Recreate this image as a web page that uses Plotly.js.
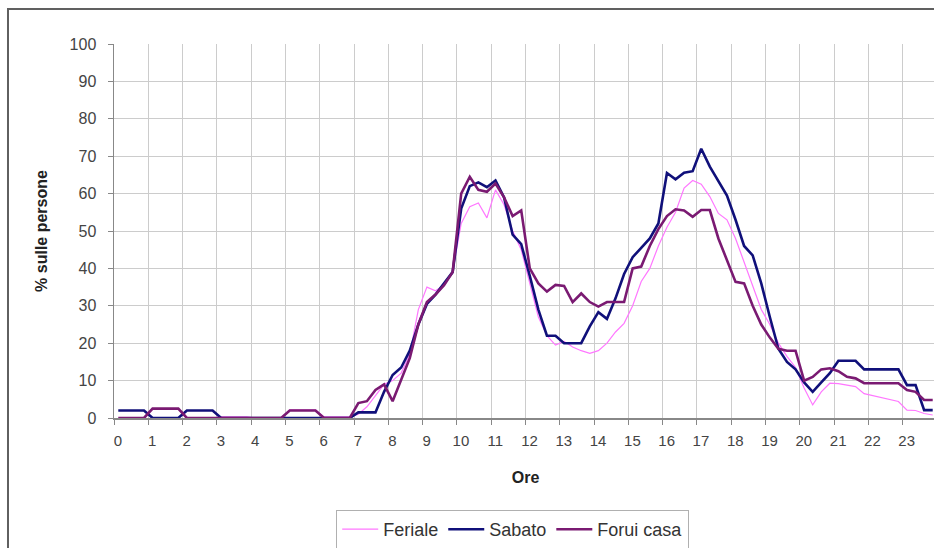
<!DOCTYPE html>
<html>
<head>
<meta charset="utf-8">
<script src="https://cdn.plot.ly/plotly-3.0.1.min.js"></script>
<style>
html,body{margin:0;padding:0;overflow:hidden;background:#fff;width:934px;height:548px;}
#chart{width:940px;height:548px;}
</style>
</head>
<body>
<div id="chart"></div>
<script>
// Hour tick labels (categories are quarter hours, 4 per hour)
const hourLabels = ["0","1","2","3","4","5","6","7","8","9","10","11","12","13","14","15","16","17","18","19","20","21","22","23"];

// Series values, one per quarter hour (96 points)
const feriale = [
  0,0,0,0, 2.5,2.5,2.5,2.5, 0,0,0,0, 0.3,0.3,0.3,0.3, 0,0,0,0, 2.2,2.2,2.2,2.2, 0.3,0.3,0.3,0.3,
  1,3,6,9, 10,12,17,29,
  35,34,35.5,39, 52,56.5,57.5,53.5, 61,57,50,45,
  36,27,22,19.5, 20.5,19,18,17.3, 18,20,23,25.3,
  30,36.5,40,46, 51,55,61.5,63.5, 62.5,59.2,54.7,53,
  48,41.5,35,29, 25,20,16.5,13.5, 8,3.5,7,9.3,
  9.2,8.8,8.4,6.5, 6,5.5,5,4.4, 2.1,2,1.2,0.8
];
const sabato = [
  2,2,2,2, 0,0,0,0, 2,2,2,2, 0,0,0,0, 0,0,0,0, 0,0,0,0, 0,0,0,0,
  1.5,1.5,1.5,7, 11.5,13.5,18,25,
  30.5,33,36,39, 56,62,63,61.7, 63.5,59,49,46.5,
  38,29,22,22, 20,20,20,24.5, 28.3,26.5,32,38.5,
  43,45.5,48,52, 65.5,63.8,65.6,66, 72,67.2,63.5,59.5,
  53,46,43.5,36, 27,18.5,15,13, 9.5,7,9.5,12,
  15.3,15.3,15.3,13, 13,13,13,13, 8.8,8.8,2.1,2.1
];
const foruiCasa = [
  0,0,0,0, 2.5,2.5,2.5,2.5, 0,0,0,0, 0,0,0,0, 0,0,0,0, 2,2,2,2, 0,0,0,0,
  4,4.5,7.5,9, 4.5,10.5,16,25,
  31,33,35.5,39, 60,64.5,61,60.5, 62.7,59,54,55.5,
  40,36,33.8,35.6, 35.3,31,33.3,31, 29.8,31,31,31,
  40,40.5,46,50.5, 54,55.8,55.5,53.8, 55.6,55.6,48,42,
  36.4,36,30,25, 21.5,18.5,18,18, 10,11,13,13.3,
  12.5,11,10.6,9.3, 9.3,9.3,9.3,9.3, 7.5,7,4.8,4.8
];
const seriesNames = ["Feriale","Sabato","Forui casa"];

// quarter-hour category centres on an hour scale
const xq = feriale.map((_, i) => (i + 0.5) / 4);
const hourTicks = hourLabels.map((_, i) => i);

const traces = [
  {x: xq, y: feriale, name: seriesNames[0], type: "scatter", mode: "lines",
   line: {color: "#ff77ff", width: 1.2}},
  {x: xq, y: sabato, name: seriesNames[1], type: "scatter", mode: "lines",
   line: {color: "#10107a", width: 2.6}},
  {x: xq, y: foruiCasa, name: seriesNames[2], type: "scatter", mode: "lines",
   line: {color: "#7a1a72", width: 2.6}}
];

const layout = {
  width: 940, height: 548,
  margin: {l: 114, r: 3, t: 44, b: 130, autoexpand: false},
  paper_bgcolor: "#ffffff", plot_bgcolor: "#ffffff",
  font: {family: "Liberation Sans, Arial, sans-serif", size: 12, color: "#333333"},
  showlegend: true,
  legend: {
    orientation: "h", x: 0.270, xanchor: "left", y: -0.246, yanchor: "top",
    bordercolor: "#b0b0b0", borderwidth: 1, bgcolor: "#ffffff",
    font: {size: 18, color: "#333333"}, itemwidth: 36
  },
  xaxis: {
    range: [0, 24], tickmode: "array", tickvals: hourTicks, ticktext: hourLabels,
    ticklabelshift: 4, ticklabelstandoff: 3, automargin: false,
    showgrid: true, gridcolor: "#cccccc", gridwidth: 1,
    showline: true, linecolor: "#888888", linewidth: 1.5,
    ticks: "outside", ticklen: 5, tickcolor: "#888888",
    zeroline: false, fixedrange: true,
    tickfont: {size: 15, color: "#444444"},
    title: {text: "<b>Ore</b>", font: {size: 16, color: "#222222"}, standoff: 24}
  },
  yaxis: {
    range: [0, 100], tickmode: "array", tickvals: [0,10,20,30,40,50,60,70,80,90,100],
    ticklabelstandoff: 8, automargin: false,
    showgrid: true, gridcolor: "#cccccc", gridwidth: 1,
    showline: true, linecolor: "#888888", linewidth: 1.5,
    ticks: "outside", ticklen: 5, tickcolor: "#888888",
    zeroline: false, fixedrange: true,
    tickfont: {size: 16, color: "#444444"},
    title: {text: "<b>% sulle persone</b>", font: {size: 16, color: "#222222"}, standoff: 18}
  },
  shapes: [
    {type: "rect", xref: "paper", yref: "paper",
     x0: -0.1288, x1: 1.3, y0: -0.5, y1: 1.0936,
     line: {color: "#606060", width: 2}, fillcolor: "rgba(0,0,0,0)", layer: "below"}
  ]
};

Plotly.newPlot("chart", traces, layout, {displayModeBar: false, staticPlot: true});
</script>
</body>
</html>
